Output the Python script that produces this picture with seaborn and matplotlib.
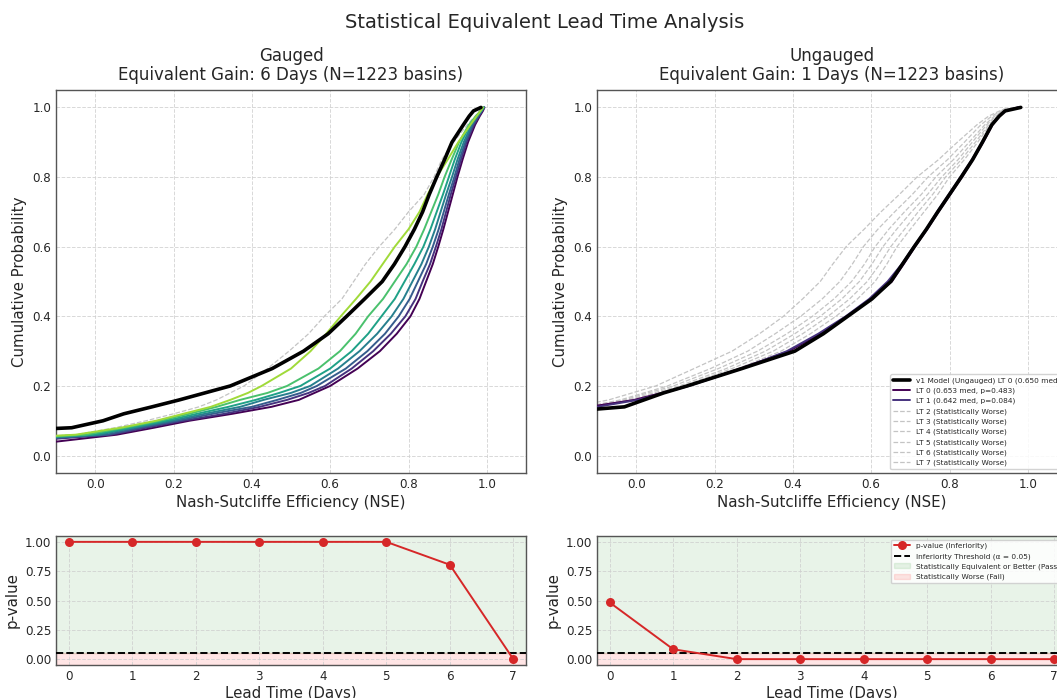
import numpy as np
import matplotlib
matplotlib.use("Agg")
import matplotlib.pyplot as plt
import seaborn as sns

# ---------------- data ----------------
# cumulative probability levels at which NSE quantiles were read
PROB = [0.02, 0.04, 0.06, 0.08, 0.10, 0.12, 0.14, 0.16, 0.18, 0.20, 0.25, 0.30, 0.35,
        0.40, 0.45, 0.50, 0.55, 0.60, 0.65, 0.70, 0.75, 0.80, 0.85, 0.90, 0.95, 0.975, 0.99, 1.00]

# Gauged panel: NSE quantiles
G_V1  = [-1.20, -0.80, -0.45, -0.06, 0.020, 0.073, 0.145, 0.215, 0.280, 0.345, 0.452, 0.532, 0.595,
         0.642, 0.688, 0.733, 0.764, 0.791, 0.815, 0.836, 0.853, 0.872, 0.892, 0.911, 0.940, 0.955, 0.966, 0.985]
G_LT0 = [-0.60, -0.10, 0.055, 0.150, 0.240, 0.350, 0.450, 0.520, 0.560, 0.600, 0.670, 0.727, 0.770,
         0.805, 0.828, 0.845, 0.862, 0.876, 0.889, 0.901, 0.913, 0.925, 0.938, 0.952, 0.970, 0.982, 0.990, 0.994]
G_LT1 = [-0.70, -0.20, 0.040, 0.130, 0.225, 0.330, 0.420, 0.490, 0.545, 0.587, 0.655, 0.710, 0.755,
         0.792, 0.818, 0.836, 0.855, 0.870, 0.884, 0.896, 0.908, 0.921, 0.934, 0.948, 0.967, 0.980, 0.988, 0.993]
G_LT2 = [-0.75, -0.25, 0.030, 0.115, 0.210, 0.300, 0.400, 0.465, 0.525, 0.566, 0.640, 0.695, 0.740,
         0.775, 0.803, 0.824, 0.845, 0.862, 0.877, 0.890, 0.903, 0.917, 0.930, 0.945, 0.964, 0.978, 0.987, 0.993]
G_LT3 = [-0.80, -0.30, 0.010, 0.100, 0.195, 0.280, 0.370, 0.430, 0.500, 0.549, 0.620, 0.675, 0.720,
         0.757, 0.787, 0.810, 0.833, 0.852, 0.868, 0.882, 0.896, 0.911, 0.925, 0.941, 0.961, 0.976, 0.986, 0.992]
G_LT4 = [-0.85, -0.33, -0.005, 0.090, 0.180, 0.260, 0.340, 0.410, 0.470, 0.524, 0.600, 0.655, 0.697,
         0.731, 0.765, 0.790, 0.815, 0.838, 0.856, 0.872, 0.888, 0.903, 0.918, 0.935, 0.957, 0.974, 0.985, 0.992]
G_LT5 = [-0.90, -0.36, -0.025, 0.075, 0.165, 0.240, 0.310, 0.370, 0.440, 0.490, 0.570, 0.625, 0.665,
         0.697, 0.735, 0.765, 0.795, 0.820, 0.840, 0.858, 0.876, 0.892, 0.910, 0.929, 0.954, 0.972, 0.984, 0.991]
G_LT6 = [-0.95, -0.40, -0.050, 0.065, 0.155, 0.225, 0.295, 0.345, 0.390, 0.425, 0.500, 0.550, 0.590,
         0.627, 0.666, 0.703, 0.734, 0.765, 0.800, 0.828, 0.849, 0.872, 0.900, 0.927, 0.958, 0.974, 0.984, 0.990]
G_LT7 = [-1.00, -0.40, -0.050, 0.050, 0.130, 0.200, 0.265, 0.310, 0.345, 0.380, 0.440, 0.495, 0.545,
         0.585, 0.630, 0.660, 0.690, 0.725, 0.765, 0.800, 0.840, 0.865, 0.885, 0.915, 0.950, 0.970, 0.982, 0.990]

# Ungauged panel: NSE quantiles
U_V1  = [-1.50, -1.20, -1.00, -0.80, -0.50, -0.25, -0.03, 0.020, 0.070, 0.130, 0.270, 0.405, 0.478,
         0.540, 0.602, 0.650, 0.680, 0.710, 0.741, 0.770, 0.800, 0.830, 0.859, 0.884, 0.908, 0.927, 0.942, 0.982]
U_LT0 = [-1.50, -1.20, -1.00, -0.75, -0.45, -0.22, -0.12, -0.005, 0.065, 0.130, 0.265, 0.390, 0.470,
         0.538, 0.600, 0.653, 0.683, 0.712, 0.743, 0.772, 0.802, 0.832, 0.860, 0.886, 0.910, 0.928, 0.943, 0.975]
U_LT1 = [-1.50, -1.20, -1.00, -0.75, -0.45, -0.22, -0.10, 0.005, 0.070, 0.135, 0.270, 0.385, 0.465,
         0.535, 0.595, 0.642, 0.678, 0.708, 0.740, 0.768, 0.798, 0.828, 0.857, 0.883, 0.907, 0.926, 0.942, 0.975]
U_LT2 = [-1.50, -1.20, -1.00, -0.75, -0.45, -0.22, -0.10, 0.000, 0.060, 0.130, 0.260, 0.370, 0.445,
         0.510, 0.565, 0.610, 0.640, 0.666, 0.700, 0.735, 0.770, 0.800, 0.838, 0.872, 0.903, 0.925, 0.942, 0.970]
U_LT3 = [-1.50, -1.20, -1.00, -0.75, -0.45, -0.22, -0.10, -0.010, 0.055, 0.120, 0.245, 0.350, 0.425,
         0.490, 0.545, 0.590, 0.622, 0.650, 0.685, 0.720, 0.757, 0.790, 0.830, 0.866, 0.900, 0.922, 0.940, 0.970]
U_LT4 = [-1.50, -1.20, -1.00, -0.75, -0.45, -0.22, -0.11, -0.020, 0.045, 0.110, 0.230, 0.330, 0.405,
         0.470, 0.525, 0.570, 0.602, 0.630, 0.665, 0.703, 0.744, 0.780, 0.822, 0.858, 0.895, 0.918, 0.938, 0.965]
U_LT5 = [-1.50, -1.20, -1.00, -0.75, -0.45, -0.22, -0.12, -0.030, 0.030, 0.095, 0.210, 0.310, 0.385,
         0.450, 0.505, 0.550, 0.583, 0.610, 0.645, 0.685, 0.728, 0.765, 0.810, 0.850, 0.890, 0.915, 0.936, 0.965]
U_LT6 = [-1.50, -1.20, -1.00, -0.75, -0.45, -0.22, -0.13, -0.040, 0.020, 0.080, 0.190, 0.285, 0.355,
         0.420, 0.475, 0.520, 0.552, 0.580, 0.617, 0.660, 0.705, 0.745, 0.795, 0.838, 0.880, 0.908, 0.932, 0.960]
U_LT7 = [-1.50, -1.20, -1.00, -0.75, -0.45, -0.25, -0.16, -0.070, -0.010, 0.050, 0.148, 0.245, 0.315,
         0.376, 0.425, 0.470, 0.502, 0.536, 0.582, 0.625, 0.672, 0.717, 0.772, 0.820, 0.870, 0.900, 0.928, 0.950]

LEAD_TIMES = [0, 1, 2, 3, 4, 5, 6, 7]
PVAL_GAUGED = [1.0, 1.0, 1.0, 1.0, 1.0, 1.0, 0.805, 0.0]
PVAL_UNGAUGED = [0.483, 0.084, 0.0, 0.0, 0.0, 0.0, 0.0, 0.0]
MED_GAUGED_V1 = 0.733
MED_UNGAUGED_V1 = 0.650
MED_UNGAUGED = [0.653, 0.642]
ALPHA = 0.05
N_BASINS = 1223
GAIN = {"Gauged": 6, "Ungauged": 1}

# ---------------- figure ----------------
sns.set_style("white")
plt.rcParams["font.family"] = ["DejaVu Sans"]

W, H = 1057, 698
fig = plt.figure(figsize=(W / 100, H / 100), dpi=100)

def box(x0, y0, x1, y1):
    return [x0 / W, 1 - y1 / H, (x1 - x0) / W, (y1 - y0) / H]

ax_gc = fig.add_axes(box(56, 90, 526, 473))
ax_uc = fig.add_axes(box(597, 90, 1067, 473))
ax_gp = fig.add_axes(box(56, 536, 526, 665))
ax_up = fig.add_axes(box(597, 536, 1067, 665))

viridis = plt.cm.viridis(np.linspace(0, 1, 8))
GRAY = "#c4c4c4"
LEG_KW = dict(fontsize=5.3, frameon=True, framealpha=0.85, edgecolor="#cccccc",
              borderaxespad=0.5, handlelength=2.3, labelspacing=0.5)


def style_axes(ax):
    for s in ax.spines.values():
        s.set_color("#555555")
        s.set_linewidth(1.0)
    ax.grid(True, linestyle="--", color="#cfcfcf", linewidth=0.7, alpha=0.8)
    ax.set_axisbelow(True)
    ax.tick_params(axis="both", labelsize=8.6, length=0, pad=3.5,
                   bottom=True, left=True)


def cdf_panel(ax, name, v1, lts, colored, v1_label, labels):
    for i, q in enumerate(lts):
        if i in colored:
            sns.lineplot(x=q, y=PROB, ax=ax, color=viridis[i], linewidth=1.4,
                         estimator=None, sort=False, label=labels[i], zorder=3)
        else:
            sns.lineplot(x=q, y=PROB, ax=ax, color=GRAY, linewidth=0.9, linestyle="--",
                         estimator=None, sort=False, label=labels[i], zorder=2)
    sns.lineplot(x=v1, y=PROB, ax=ax, color="black", linewidth=2.6,
                 estimator=None, sort=False, label=v1_label, zorder=5)
    ax.set_xlim(-0.1, 1.1)
    ax.set_ylim(-0.05, 1.05)
    ax.set_xticks([0.0, 0.2, 0.4, 0.6, 0.8, 1.0])
    ax.set_yticks([0.0, 0.2, 0.4, 0.6, 0.8, 1.0])
    ax.set_xlabel("Nash-Sutcliffe Efficiency (NSE)", fontsize=10.8, labelpad=3)
    ax.set_ylabel("Cumulative Probability", fontsize=10.8, labelpad=4)
    ax.set_title(f"{name}\nEquivalent Gain: {GAIN[name]} Days (N={N_BASINS} basins)",
                 fontsize=12, pad=7, linespacing=1.1)
    style_axes(ax)


# gauged CDF
g_lts = [G_LT0, G_LT1, G_LT2, G_LT3, G_LT4, G_LT5, G_LT6, G_LT7]
g_labels = [f"LT {i}" for i in range(8)]
cdf_panel(ax_gc, "Gauged", G_V1, g_lts, colored=range(7),
          v1_label=f"v1 Model (Gauged) LT 0 ({MED_GAUGED_V1:.3f} med)", labels=g_labels)
if ax_gc.get_legend():
    ax_gc.get_legend().remove()

# ungauged CDF
u_lts = [U_LT0, U_LT1, U_LT2, U_LT3, U_LT4, U_LT5, U_LT6, U_LT7]
u_labels = [f"LT {i} ({MED_UNGAUGED[i]:.3f} med, p={PVAL_UNGAUGED[i]:.3f})" if i < 2
            else f"LT {i} (Statistically Worse)" for i in range(8)]
cdf_panel(ax_uc, "Ungauged", U_V1, u_lts, colored=[0, 1],
          v1_label=f"v1 Model (Ungauged) LT 0 ({MED_UNGAUGED_V1:.3f} med)", labels=u_labels)
h, l = ax_uc.get_legend_handles_labels()
order = [len(h) - 1] + list(range(len(h) - 1))
ax_uc.legend([h[k] for k in order], [l[k] for k in order], loc="lower right", **LEG_KW)


def pval_panel(ax, pvals, legend):
    ax.axhspan(ALPHA, 1.05, color="green", alpha=0.09,
               label="Statistically Equivalent or Better (Pass)", zorder=0)
    ax.axhspan(-0.05, ALPHA, color="red", alpha=0.1,
               label="Statistically Worse (Fail)", zorder=0)
    sns.lineplot(x=LEAD_TIMES, y=pvals, ax=ax, color="#d62728", marker="o",
                 markersize=6.5, markeredgewidth=0, linewidth=1.4,
                 label="p-value (Inferiority)", zorder=4)
    ax.axhline(ALPHA, color="black", linestyle="--", linewidth=1.4,
               label=f"Inferiority Threshold (\u03b1 = {ALPHA})", zorder=3)
    ax.set_xlim(-0.2, 7.2)
    ax.set_ylim(-0.05, 1.05)
    ax.set_xticks(LEAD_TIMES)
    ax.set_yticks([0.0, 0.25, 0.5, 0.75, 1.0])
    ax.set_yticklabels([f"{v:.2f}" for v in [0.0, 0.25, 0.5, 0.75, 1.0]])
    ax.set_xlabel("Lead Time (Days)", fontsize=10.8, labelpad=2)
    ax.set_ylabel("p-value", fontsize=10.8, labelpad=4)
    style_axes(ax)
    if legend:
        h, l = ax.get_legend_handles_labels()
        want = ["p-value (Inferiority)", f"Inferiority Threshold (\u03b1 = {ALPHA})",
                "Statistically Equivalent or Better (Pass)", "Statistically Worse (Fail)"]
        hh = [h[l.index(w)] for w in want]
        ax.legend(hh, want, loc="upper right", **LEG_KW)
    elif ax.get_legend():
        ax.get_legend().remove()


pval_panel(ax_gp, PVAL_GAUGED, legend=False)
pval_panel(ax_up, PVAL_UNGAUGED, legend=True)

fig.text(545 / W, 1 - 22 / H, "Statistical Equivalent Lead Time Analysis",
         ha="center", va="center", fontsize=14)

fig.savefig("out.png", dpi=100)
